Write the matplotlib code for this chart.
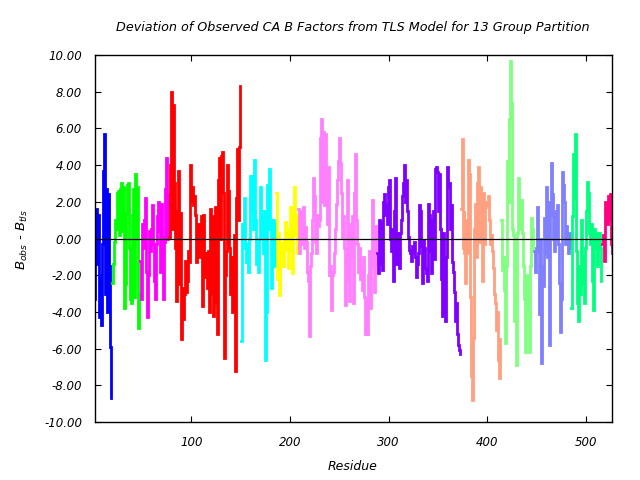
import matplotlib
matplotlib.use('Agg')
import matplotlib.pyplot as plt
import numpy as np

# ---------------- data ----------------
blue_start = 2
blue_vals = [-3.3, -0.6, 1.6, -1.4, 1.3, -4.3, -2.0, -4.7, -0.3, 3.7, 5.7, -3.0,
             2.7, -4.0, 2.4, -1.5, -5.9, -8.7]

green_start = 20
green_vals = [-2.4, -1.4, -0.2, 1.0, 0.5, 2.5, 2.6, 0.2, 2.7, 3.0, 0.4, 2.8, -3.8,
              -2.5, 1.4, 2.9, 3.0, -0.5, -3.3, -3.5, 1.3, 2.7, -3.2, 3.5, 0.0, 2.8,
              -4.9, -3.0]

magenta_start = 48
magenta_vals = [-1.2, -3.3, 0.8, -0.5, 1.0, 2.2, -1.8, -4.3, -2.0, 0.4, -0.7, 0.5,
                1.8, -0.3, -2.3, -3.3, -0.3, 1.2, 2.0, 0.4, -1.8, 1.9, 0.1, -3.3,
                -0.2, 2.7, 4.4, 0.0, 2.4, 0.2]

red_start = 78
red_vals = [0.1, 4.0, 8.0, 0.5, 7.3, 3.0, -0.5, -3.4, 1.5, 3.7, -2.5, 1.4, -5.5,
            -2.7, -4.4, -3.0, -1.2, -2.9, -2.3, -0.7, -1.3, 4.0, 2.0, 2.8, 1.8, 2.3,
            1.3, -1.3, -0.5, 0.8, -1.0, -0.8, 1.2, -3.7, 1.3, -0.8, -2.1, -0.8, -2.7,
            -0.7, -4.0, 1.6, -3.0, 1.2, -4.2, -2.0, 1.7, -3.5, -5.2, 3.2, 4.4, 0.0,
            4.5, 4.7, 2.5, -6.5, -2.0, -0.7, 4.0, 2.6, -0.5, -3.0, -1.0, -4.0, -1.8,
            0.2, -7.2, 2.2, 4.9, 1.0, 5.0, 8.3]

cyan_start = 150
cyan_vals = [-5.6, -2.3, 0.8, 0.2, 2.2, -0.5, -1.3, -0.3, -1.8, 0.0, 3.4, 1.5, 3.4,
             0.5, 4.3, 1.0, -1.4, -0.2, -1.8, 0.0, 2.8, 1.2, 0.2, -0.8, 1.5, -6.6,
             -4.0, 2.9, 0.5, 3.8, 1.0, -2.7, -0.5, 1.0, -1.5, 0.8]

yellow_start = 186
yellow_vals = [2.5, -2.2, 0.3, -3.1, -0.4, -0.8, -0.2, -1.5, 0.0, 0.9, -0.6, 0.3,
               -1.6, 0.5, 1.7, -0.5, -1.9, 1.2, 2.8, 0.2, 1.3, -0.8]

violet_start = 208
violet_vals = [1.6, -0.8, 1.5, -0.3, 0.8, 1.7, -0.5, 0.6, -0.2, -1.8, -2.3, -5.3,
               -1.5, -0.8, 1.0, 3.3, 2.3, -0.2, 0.3, -0.8, 1.3, 0.7, 1.0, 5.5, 6.5,
               2.0, 5.8, 1.8, 5.7, 3.2, 0.8, 3.9, -2.0, -1.5, -3.9, -2.0, -1.8, -0.8,
               0.5, 1.9, 3.2, 4.2, 5.5, 4.1, 2.5, 0.1, 1.2, -0.5, -3.6, -2.3, 3.2, 0.6,
               -3.4, 0.8, -1.0, 1.2, -3.5, 2.5, 4.6, 1.0, -0.3, -1.8, -0.5, -2.2, -1.5,
               -2.8, -1.0, -3.2, -5.2, -3.3, -5.2, -2.0, -0.7, -3.8, -1.5, 2.1, 0.5,
               -2.9, 0.7, -1.4]

purple_start = 288
purple_vals = [-0.8, -1.9, 1.0, 0.9, -1.4, -1.7, 2.0, 2.4, 1.3, 1.9, 0.8, 2.8, 3.2,
               1.6, 0.0, -0.7, 0.5, -2.3, 1.5, 3.3, -1.4, 0.3, -1.2, -1.6, 0.3, 1.0,
               2.3, 3.0, 4.0, 2.0, 3.2, 1.5, 0.1, -0.6, -0.8, -1.2, -0.4, -0.8, -0.2,
               -1.0, -2.1, -1.4, -0.8, 1.8, 1.5, -0.4, -2.4, -0.1, -0.5, -1.6, -1.9,
               -2.3, 1.9, 1.3, -0.7, -1.9, 1.0, 1.5, -1.1, 3.8, 3.9, 3.6, 1.5, 3.5, 0.5,
               -2.2, -4.2, 0.3, -2.5, -4.5, -1.0, 3.9, 2.8, 3.0, 0.5, 1.8, -1.3, -1.8,
               -2.9, -4.5, -3.5, -5.2, -5.8, -6.1, -6.3]

salmon_start = 373
salmon_vals = [1.6, 5.4, -0.5, 1.5, -0.8, -2.4, 1.0, -0.8, 4.3, 3.5, -3.2, -7.5,
               -8.8, -5.4, 0.5, 1.9, -1.0, 3.0, 3.9, -0.2, 2.8, 2.1, -2.3, 2.5, -0.3,
               1.7, 2.0, 1.8, 2.3, 1.0, -0.3, 0.2, -0.7, -1.6, -3.0, -3.5, -5.0, -4.0,
               -6.6, -7.6, -5.5]

lightgreen_start = 414
lightgreen_vals = [1.0, -1.7, -1.0, -2.8, -5.7, -1.5, 4.2, 2.0, 6.5, 9.7, 7.4, 0.5,
                   0.2, -4.5, -0.3, -6.9, 0.3, 3.3, 1.5, 0.5, 2.1, 0.3, -1.5, -3.3,
                   -6.2, -2.0, -4.0, -2.1, -6.2, -1.5, 1.1, 0.5, -0.5]

slate_start = 447
slate_vals = [-0.7, -1.8, -0.5, 1.7, 0.5, -0.7, -4.1, 0.0, -6.8, -1.5, -2.6, 1.1,
              -0.8, 2.8, -1.0, 2.0, -5.8, 1.3, 4.1, 2.4, 0.0, -0.7, 1.5, 0.0, 1.8,
              -0.3, -2.4, -5.1, -3.3, 3.6, 2.9, 2.0, -0.3, 0.7, 0.0, -0.8, 0.3, -0.5]

spring_start = 485
spring_vals = [-3.8, 1.2, 4.6, 2.2, 5.7, -0.7, -3.5, -4.5, -1.5, -3.0, 1.0, -2.5,
               -1.0, -3.5, -0.5, 1.5, 3.1, 2.5, 0.3, -0.3, 0.8, -2.3, -3.9, 0.5, -0.5,
               0.3, -1.5, 0.0, 0.3, -0.5, -2.3]

pink_start = 516
pink_vals = [-0.3, 0.2, -1.2, 2.0, 1.5, 0.8, 2.3, 1.0, 2.4, -0.3, -0.8]

group_colors = ['#0000ff', '#00ff00', '#ff00ff', '#ff0000', '#00ffff', '#ffff00',
                '#ff80ff', '#8000ff', '#ffa080', '#80ff80', '#8080ff', '#00ff80',
                '#ff0080']

groups = [(blue_start, blue_vals), (green_start, green_vals),
          (magenta_start, magenta_vals), (red_start, red_vals),
          (cyan_start, cyan_vals), (yellow_start, yellow_vals),
          (violet_start, violet_vals), (purple_start, purple_vals),
          (salmon_start, salmon_vals), (lightgreen_start, lightgreen_vals),
          (slate_start, slate_vals), (spring_start, spring_vals),
          (pink_start, pink_vals)]

y_ticks = [-10, -8, -6, -4, -2, 0, 2, 4, 6, 8, 10]
x_ticks = [100, 200, 300, 400, 500]

title = 'Deviation of Observed CA B Factors from TLS Model for 13 Group Partition'

# ---------------- drawing ----------------
plt.rcParams['font.family'] = ['DejaVu Sans']
plt.rcParams['font.style'] = 'italic'
plt.rcParams['axes.unicode_minus'] = False
plt.rcParams['mathtext.fontset'] = 'dejavusans'
plt.rcParams['mathtext.default'] = 'it'

fig = plt.figure(figsize=(6.4, 4.8), dpi=100)
ax = fig.add_axes([94.5 / 640, 1 - 422 / 480, (612 - 94.5) / 640, (422 - 55) / 480])

for (start, vals), col in zip(groups, group_colors):
    xs = np.arange(start, start + len(vals))
    ax.plot(xs, vals, drawstyle='steps-post', color=col, lw=2.0,
            solid_joinstyle='miter', zorder=2)

ax.axhline(0, color='black', lw=0.9, zorder=3)

ax.set_xlim(2, 526.5)
ax.set_ylim(-10, 10)
ax.set_xticks(x_ticks)
ax.set_yticks(y_ticks)
ax.set_xticklabels([str(t) for t in x_ticks])
ax.set_yticklabels(['%.2f' % t for t in y_ticks])
ax.tick_params(direction='in', length=4.5, width=0.8, top=True, right=True,
               labelsize=8.5)
ax.tick_params(axis='x', pad=10)
ax.tick_params(axis='y', pad=9)
for s in ax.spines.values():
    s.set_linewidth(1.0)

fig.text(353 / 640, 1 - 27 / 480, title, ha='center', va='center',
         fontsize=9.2, style='italic')
fig.text(353 / 640, 1 - 467 / 480, 'Residue', ha='center', va='center',
         fontsize=9.0, style='italic')
fig.text(22 / 640, 0.5, r'$B_{obs}$ - $B_{tls}$', ha='center', va='center',
         rotation=90, fontsize=9.5, style='italic')

fig.savefig('out.png', dpi=100)
